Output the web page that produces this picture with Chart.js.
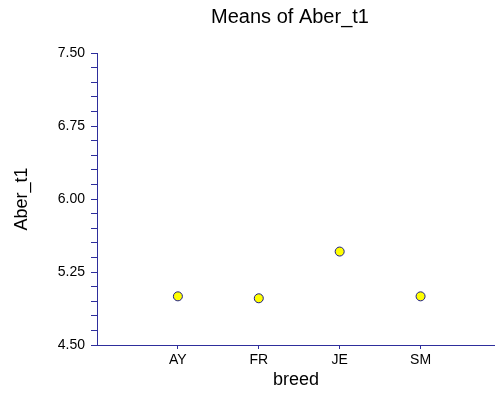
<!DOCTYPE html>
<html>
<head>
<meta charset="utf-8">
<script src="https://cdn.jsdelivr.net/npm/chart.js@4/dist/chart.umd.min.js"></script>
<style>
  html, body { margin: 0; padding: 0; background: #fff; }
  #wrap { width: 495px; height: 394px; position: relative; }
</style>
</head>
<body>
<div id="wrap"><canvas id="c"></canvas></div>
<script>
// Breed categories and the mean of Aber_t1 for each
const breeds = ['AY', 'FR', 'JE', 'SM'];
const means = [5.00, 4.98, 5.46, 5.00];

// Value-axis range and tick spacing
const yMin = 4.50;
const yMax = 7.50;
const yMinorStep = 0.15;
const yMajorStep = 0.75;

const axisColor = '#2e2e9c';
const fontFamily = '"Liberation Sans", Arial, sans-serif';

const points = breeds.map((b, i) => ({ x: i + 1, y: means[i] }));

// Centre the chart title a little left of the canvas middle, over the plot
const titleShift = {
  id: 'titleShift',
  afterLayout(chart) {
    const t = chart.titleBlock;
    if (t) { t.left = chart.chartArea.left - 12; t.width = t.right - t.left; }
  }
};

new Chart(document.getElementById('c'), {
  type: 'scatter',
  data: {
    datasets: [{
      data: points,
      pointRadius: 4.5,
      pointHoverRadius: 4.5,
      pointBackgroundColor: '#ffff00',
      pointBorderColor: '#1c1c88',
      pointBorderWidth: 1,
      showLine: false
    }]
  },
  plugins: [titleShift],
  options: {
    responsive: true,
    maintainAspectRatio: false,
    animation: false,
    layout: { autoPadding: false, padding: { left: 0, right: 0, top: 0, bottom: 0 } },
    plugins: {
      legend: { display: false },
      tooltip: { enabled: false },
      title: {
        display: true,
        text: 'Means of Aber_t1',
        color: '#000',
        font: { family: fontFamily, size: 20, weight: 'normal' },
        padding: { top: 5.5, bottom: 23.5 }
      }
    },
    scales: {
      x: {
        type: 'linear',
        min: 0,
        max: 4.92,
        afterBuildTicks: (scale) => {
          scale.ticks = breeds.map((b, i) => ({ value: i + 1 }));
        },
        afterFit: (scale) => { scale.height = 49; },
        border: { display: true, color: axisColor, width: 1 },
        grid: {
          drawOnChartArea: false,
          drawTicks: true,
          tickLength: 4,
          color: axisColor
        },
        ticks: {
          autoSkip: false,
          maxRotation: 0,
          padding: 3,
          color: '#000',
          font: { family: fontFamily, size: 14 },
          callback: (v) => breeds[Math.round(v) - 1] || ''
        },
        title: {
          display: true,
          text: 'breed',
          color: '#000',
          font: { family: fontFamily, size: 18 },
          padding: { top: 0, bottom: 3 }
        }
      },
      y: {
        type: 'linear',
        min: yMin,
        max: yMax,
        afterBuildTicks: (scale) => {
          const n = Math.round((yMax - yMin) / yMinorStep);
          const ticks = [];
          for (let i = 0; i <= n; i++) {
            ticks.push({ value: +(yMin + i * yMinorStep).toFixed(4) });
          }
          scale.ticks = ticks;
        },
        afterFit: (scale) => { scale.width = 97; },
        border: { display: true, color: axisColor, width: 1 },
        grid: {
          drawOnChartArea: false,
          drawTicks: true,
          tickLength: 6,
          color: axisColor
        },
        ticks: {
          autoSkip: false,
          padding: 6,
          color: '#000',
          font: { family: fontFamily, size: 14 },
          callback: (v) => {
            const k = (v - yMin) / yMajorStep;
            return Math.abs(k - Math.round(k)) < 1e-6 ? Number(v).toFixed(2) : '';
          }
        },
        title: {
          display: true,
          text: 'Aber_t1',
          color: '#000',
          font: { family: fontFamily, size: 18 },
          padding: { top: 11, bottom: 0 }
        }
      }
    }
  }
});
</script>
</body>
</html>
